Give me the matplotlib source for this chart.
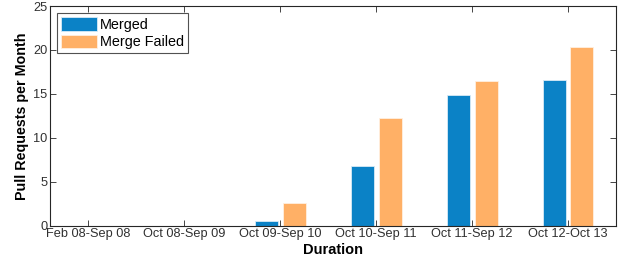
import numpy as np
import matplotlib
matplotlib.use('Agg')
import matplotlib.pyplot as plt

plt.rcParams['font.family'] = ['Liberation Sans', 'DejaVu Sans']

# data
durations = ['Feb 08-Sep 08', 'Oct 08-Sep 09', 'Oct 09-Sep 10',
             'Oct 10-Sep 11', 'Oct 11-Sep 12', 'Oct 12-Oct 13']
merged = [0, 0, 0.55, 6.8, 14.9, 16.6]
merge_failed = [0, 0, 2.6, 12.3, 16.5, 20.35]

blue = '#0b82c6'
orange = '#ffb066'

fig = plt.figure(figsize=(6.26, 2.61), dpi=100)
ax = fig.add_axes([0.08, 0.136, 0.904, 0.841])

x = np.arange(1, len(durations) + 1)
w = 0.24
ax.bar(x - 0.14, merged, w, color=blue, edgecolor='#d8eaf6', linewidth=0.6,
       label='Merged')
ax.bar(x + 0.145, merge_failed, w, color=orange, edgecolor='#fff0e0',
       linewidth=0.6, label='Merge Failed')

ax.set_xlim(0.6, 6.5)
ax.set_ylim(0, 25)
ax.set_xticks(x)
ax.set_xticklabels(durations, fontsize=9.2, color='#303030')
ax.set_yticks(np.arange(0, 26, 5))
ax.tick_params(axis='y', labelsize=9.2, labelcolor='#303030')
ax.tick_params(direction='in', length=4, width=0.6, top=True, right=True,
               color='#262626', pad=2)
for s in ax.spines.values():
    s.set_linewidth(0.8)
    s.set_color('#262626')

ax.set_xlabel('Duration', fontsize=10.5, fontweight='bold', labelpad=2)
ax.set_ylabel('Pull Requests per Month', fontsize=10.3, fontweight='bold',
              labelpad=3)

leg = ax.legend(loc='upper left', fontsize=10.4, frameon=True, fancybox=False,
                edgecolor='#262626', handlelength=2.5, handleheight=1.1,
                handletextpad=0.2, borderpad=0.25, labelspacing=0.2,
                borderaxespad=0.5)
leg.get_frame().set_linewidth(0.8)

fig.savefig('out.png', dpi=100)
